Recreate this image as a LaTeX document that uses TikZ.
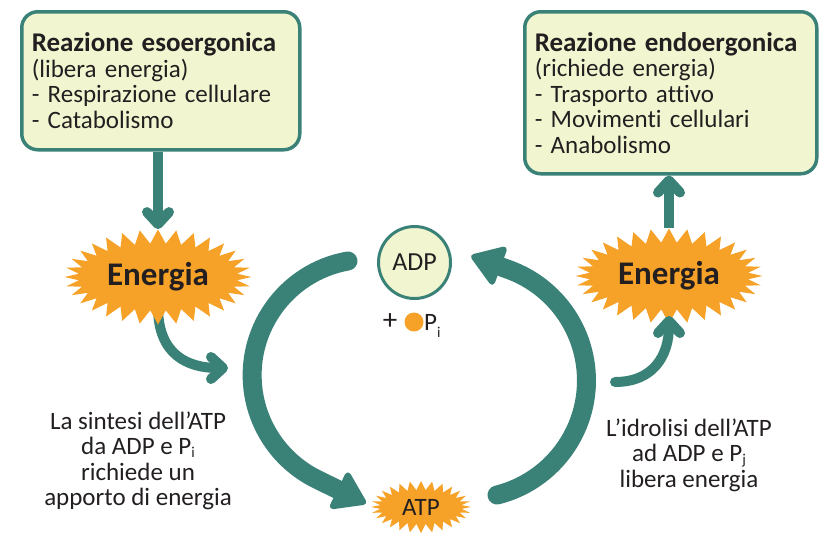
\documentclass[tikz,border=0pt]{standalone}
\usepackage{fontspec}
\setmainfont{Carlito}[Ligatures=NoCommon]
\usetikzlibrary{arrows.meta,shapes.symbols,calc}
\definecolor{teal1}{RGB}{58,129,120}
\definecolor{orng}{RGB}{246,162,40}
\definecolor{pale}{RGB}{242,246,208}
\definecolor{ink}{RGB}{35,31,32}
\pgfdeclarelayer{bg}
\pgfsetlayers{bg,main}
\newcommand{\boxtitle}[1]{{\fontsize{27}{25.5}\selectfont\bfseries #1}}
\begin{document}
\begin{tikzpicture}[x=1pt,y=-1pt,
 box/.style={draw=teal1, line width=3.5pt, fill=pale, rounded corners=16pt, align=left,
   inner xsep=10pt, inner ysep=0pt, font=\fontsize{25}{25.5}\selectfont, text=ink, anchor=north west},
 burst/.style={starburst, random starburst=0, fill=orng, draw=none, text=ink, inner sep=0pt},
 thinarrow/.style={draw=teal1, line width=10pt, -{Straight Barb[length=12pt,width=22pt,round]}},
 bigarrow/.style={draw=teal1, line width=19pt, line cap=round,
   -{Triangle[length=34pt,width=44pt,line width=6pt,round]}},
 txt/.style={align=center, text=ink, font=\fontsize{25}{25.5}\selectfont, inner sep=0pt}
]
\useasboundingbox (0,0) rectangle (822,547);

\node[box, text width=258pt, minimum height=138pt] (b1) at (20,10)
  {\boxtitle{Reazione esoergonica}\\(libera energia)\\- Respirazione cellulare\\- Catabolismo};
\node[box, text width=272pt, minimum height=162pt] (b2) at (523,10)
  {\boxtitle{Reazione endoergonica}\\(richiede energia)\\- Trasporto attivo\\- Movimenti cellulari\\- Anabolismo};

\node[burst, starburst points=32, starburst point height=14pt, minimum width=187pt, minimum height=95pt,
  font=\fontsize{33}{33}\selectfont\bfseries] (e1) at (158,277) {Energia};
\node[burst, starburst points=32, starburst point height=14pt, minimum width=187pt, minimum height=95pt,
  font=\fontsize{33}{33}\selectfont\bfseries] (e2) at (669,276) {Energia};

\node[circle, draw=teal1, line width=3pt, fill=pale, minimum size=72pt, inner sep=0pt,
  font=\fontsize{26}{26}\selectfont, text=ink] (adp) at (414.5,262.5) {ADP};
\node[txt, font=\fontsize{29}{29}\selectfont] (plus) at (390,322) {+};
\node[circle, fill=orng, minimum size=19pt, inner sep=0pt] (dot) at (414,322) {};
\node[txt, anchor=west] (pi) at (424,322) {P\smash{\raisebox{-7pt}{\fontsize{15}{15}\selectfont i}}};

\node[burst, starburst points=28, starburst point height=9pt, minimum width=100pt, minimum height=52pt,
  font=\fontsize{25}{25}\selectfont] (atp) at (421,507) {ATP};

\node[txt] (t1) at (138,461) {La sintesi dell’ATP\\da ADP e P\smash{\raisebox{-3pt}{\fontsize{15}{15}\selectfont i}}\\richiede un\\apporto di energia};
\node[txt] (t2) at (689,455) {L’idrolisi dell’ATP\\ad ADP e P\smash{\raisebox{-3pt}{\fontsize{15}{15}\selectfont j}}\\libera energia};

\draw[thinarrow] (e1.north |- b1.south) -- (e1.north);
\draw[thinarrow] (e2.north) -- (e2.north |- b2.south);

\coordinate (c1) at (228,368);
\begin{pgfonlayer}{bg}
\draw[thinarrow] ($(e1.center)+(0,30)$) .. controls +(0,48) and +(-40,0) .. (c1);
\end{pgfonlayer}
\coordinate (c2) at (615,382);
\draw[thinarrow, line cap=round] (c2) .. controls +(38,0) and +(0,40) .. ($(e2.center)+(0,40)$);

\coordinate (a1) at (348,261);
\draw[bigarrow] (a1) arc[start angle=260,end angle=116,radius=116] -- ++(48.6,23.8);
\coordinate (a2) at (497,495);
\draw[bigarrow] (a2) arc[start angle=76,end angle=-70,radius=118] -- ++(-37.6,-13.7);
\end{tikzpicture}
\end{document}
